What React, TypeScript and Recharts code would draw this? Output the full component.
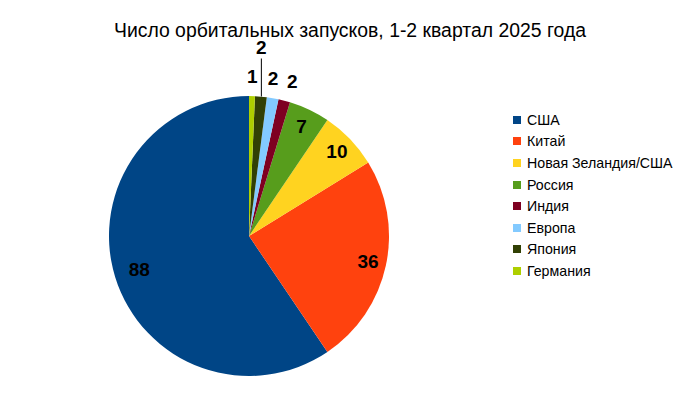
import { useEffect } from "react";
import { Cell, Legend, Pie, PieChart } from "recharts";

const countries = ["США", "Китай", "Новая Зеландия/США", "Россия", "Индия", "Европа", "Япония", "Германия"];
const launches = [88, 36, 10, 7, 2, 2, 2, 1];
const colors = ["#004586", "#ff420e", "#ffd320", "#579d1c", "#7e0021", "#83caff", "#314004", "#aecf00"];

const data = countries.map((name, i) => ({ name, value: launches[i] }));

// label that gets lifted above the others with a leader line
const liftedLabel = "Япония";

const RADIAN = Math.PI / 180;
const FONT = "Liberation Sans, Arial, sans-serif";

function renderLabel(props: any) {
  const { cx, cy, midAngle, outerRadius, percent, index, value } = props;
  const cos = Math.cos(-midAngle * RADIAN);
  const sin = Math.sin(-midAngle * RADIAN);
  const style = { fontFamily: FONT, fontWeight: 700, fontSize: 19, fill: "#000" };

  if (percent > 0.03) {
    const r = outerRadius * (index === 0 ? 0.82 : 0.87);
    return (
      <text x={cx + r * cos} y={cy + r * sin} textAnchor="middle" dominantBaseline="central" style={style}>
        {value}
      </text>
    );
  }

  if (countries[index] === liftedLabel) {
    const ex = cx + outerRadius * cos + 0.5;
    const ey = cy + outerRadius * sin;
    return (
      <g>
        <line x1={ex} y1={ey} x2={ex} y2={ey - 38} stroke="#000" strokeWidth={1} />
        <text x={ex} y={ey - 49} textAnchor="middle" dominantBaseline="central" style={style}>
          {value}
        </text>
      </g>
    );
  }

  const r = outerRadius + 20;
  // spread the crowded outside labels a little, away from the lifted one
  const spread = cos > 0.2 ? 3 : cos > 0.1 ? -3 : 0;
  return (
    <text x={cx + r * cos + spread} y={cy + r * sin} textAnchor="middle" dominantBaseline="central" style={style}>
      {value}
    </text>
  );
}

function LegendList() {
  return (
    <div style={{ fontFamily: FONT, fontSize: 14.2, color: "#000" }}>
      {data.map((d, i) => (
        <div key={d.name} style={{ display: "flex", alignItems: "center", height: 21.6 }}>
          <span style={{ width: 8, height: 8, background: colors[i], marginRight: 6, display: "inline-block" }} />
          <span>{d.name}</span>
        </div>
      ))}
    </div>
  );
}

export default function App() {
  useEffect(() => {
    document.body.style.margin = "0";
  }, []);

  return (
    <div style={{ position: "relative", width: 700, height: 393, background: "#fff" }}>
      <div
        style={{
          position: "absolute",
          top: 19,
          left: 0,
          width: 700,
          textAlign: "center",
          fontFamily: FONT,
          fontSize: 19.4,
          color: "#000",
        }}
      >
        Число орбитальных запусков, 1-2 квартал 2025 года
      </div>
      <PieChart width={700} height={393} margin={{ top: 0, right: 0, bottom: 0, left: 0 }}>
        <Pie
          data={data}
          dataKey="value"
          nameKey="name"
          cx={249}
          cy={236}
          outerRadius={140}
          startAngle={90}
          endAngle={450}
          stroke="none"
          label={renderLabel}
          labelLine={false}
          isAnimationActive={false}
        >
          {data.map((d, i) => (
            <Cell key={d.name} fill={colors[i]} />
          ))}
        </Pie>
        <Legend
          layout="vertical"
          content={() => <LegendList />}
          wrapperStyle={{ position: "absolute", left: 513, top: 109, width: 180 }}
        />
      </PieChart>
    </div>
  );
}
